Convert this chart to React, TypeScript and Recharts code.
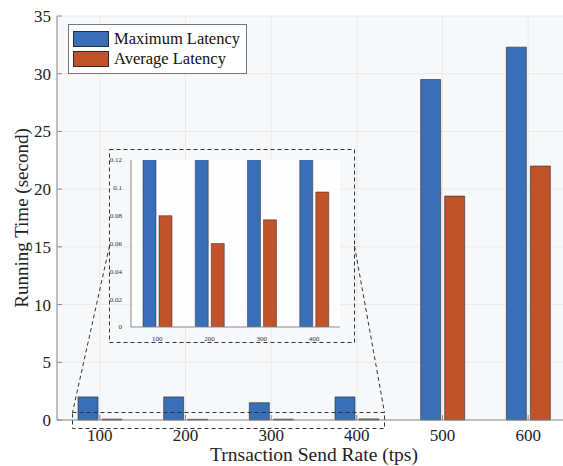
import { Bar, BarChart, CartesianGrid, Legend, XAxis, YAxis } from 'recharts';

const RATES = ['100', '200', '300', '400', '500', '600'];
const MAX_LATENCY = [2.0, 2.0, 1.5, 2.0, 29.5, 32.3];
const AVG_LATENCY = [0.08, 0.06, 0.077, 0.097, 19.4, 22.0];
const Y_TICKS = [0, 5, 10, 15, 20, 25, 30, 35];
const SERIES_NAMES = ['Maximum Latency', 'Average Latency'];

const INSET_COUNT = 4;
const INSET_TICKS = [0, 0.02, 0.04, 0.06, 0.08, 0.1, 0.12];

const BLUE = '#3a6fb7';
const ORANGE = '#c1532a';
const EDGE = '#2b2b2b';
const AXIS = '#8a8a8a';
const FONT = '"Liberation Serif", "Times New Roman", serif';

const rows = RATES.map((rate, i) => ({ rate, max: MAX_LATENCY[i], avg: AVG_LATENCY[i] }));
const insetRows = rows.slice(0, INSET_COUNT);

function MainYTick({ x, y, payload }: any) {
  return (
    <g>
      <line x1={x + 6} x2={x + 11} y1={y} y2={y} stroke={AXIS} />
      <text x={x} y={y} dy="0.35em" textAnchor="end" fontSize={17} fill="#222" style={{ fontFamily: FONT }}>
        {payload.value}
      </text>
    </g>
  );
}

function MainXTick({ x, y, payload }: any) {
  return (
    <g>
      <line x1={x} x2={x} y1={y - 9} y2={y - 14} stroke={AXIS} />
      <text x={x} y={y} dy="0.71em" textAnchor="middle" fontSize={17} fill="#222" style={{ fontFamily: FONT }}>
        {payload.value}
      </text>
    </g>
  );
}

function InsetYTick({ x, y, payload }: any) {
  return (
    <text x={x} y={y} dy="0.35em" textAnchor="end" fontSize={7} fill="#333" style={{ fontFamily: FONT }}>
      {payload.value}
    </text>
  );
}

function InsetXTick({ x, y, payload }: any) {
  return (
    <text x={x} y={y} dy="0.71em" textAnchor="middle" fontSize={7} fill="#333" style={{ fontFamily: FONT }}>
      {payload.value}
    </text>
  );
}

function TopTick({ x, y }: any) {
  return <line x1={x} x2={x} y1={y} y2={y + 5} stroke={AXIS} />;
}

function LegendBox({ payload }: any) {
  const items = [...(payload ?? [])].sort(
    (a: any, b: any) => SERIES_NAMES.indexOf(a.value) - SERIES_NAMES.indexOf(b.value),
  );
  return (
    <div
      style={{
        border: '1px solid #777',
        background: '#fff',
        padding: '4px 6px 4px 4px',
        fontFamily: FONT,
        fontSize: 16.5,
        color: '#111',
      }}
    >
      {items.map((item: any) => (
        <div key={item.value} style={{ display: 'flex', alignItems: 'center', height: 20 }}>
          <span
            style={{
              width: 34,
              height: 14,
              background: item.color,
              border: `1px solid ${EDGE}`,
              marginRight: 5,
            }}
          />
          <span>{item.value}</span>
        </div>
      ))}
    </div>
  );
}

function Inset() {
  return (
    <div style={{ position: 'absolute', left: 109, top: 149 }}>
      <BarChart
        width={245}
        height={193}
        data={insetRows}
        margin={{ top: 11, right: 14, bottom: 0, left: 0 }}
        barSize={13}
        barGap={3}
      >
        <CartesianGrid fill="#ffffff" fillOpacity={0.85} horizontal={false} vertical={false} />
        <XAxis
          dataKey="rate"
          height={15}
          tickLine={false}
          tickMargin={3}
          tick={<InsetXTick />}
          axisLine={{ stroke: AXIS }}
        />
        <XAxis xAxisId="top" orientation="top" dataKey="rate" height={0} tick={false} tickLine={false} axisLine={{ stroke: AXIS }} />
        <YAxis
          width={22}
          domain={[0, 0.12]}
          ticks={INSET_TICKS}
          allowDataOverflow
          tickLine={false}
          tickMargin={3}
          tick={<InsetYTick />}
          axisLine={{ stroke: AXIS }}
        />
        <YAxis yAxisId="r" orientation="right" width={0} tick={false} tickLine={false} axisLine={{ stroke: AXIS }} />
        <Bar dataKey="max" fill={BLUE} stroke={EDGE} strokeWidth={0.5} isAnimationActive={false} />
        <Bar dataKey="avg" fill={ORANGE} stroke={EDGE} strokeWidth={0.5} isAnimationActive={false} />
      </BarChart>
    </div>
  );
}

function ZoomMarks() {
  const dash = { stroke: '#333', strokeWidth: 1, strokeDasharray: '4 3', fill: 'none' };
  return (
    <svg
      width={563}
      height={466}
      style={{ position: 'absolute', left: 0, top: 0, pointerEvents: 'none' }}
    >
      <rect x={109.5} y={149.5} width={245} height={193} {...dash} />
      <rect x={72.5} y={412.5} width={312} height={16} {...dash} />
      <line x1={109.5} y1={246} x2={72.5} y2={412.5} {...dash} />
      <line x1={354.5} y1={246} x2={384.5} y2={412.5} {...dash} />
    </svg>
  );
}

export default function App() {
  return (
    <div
      style={{
        position: 'absolute',
        left: 0,
        top: 0,
        width: 563,
        height: 466,
        overflow: 'hidden',
        background: '#fff',
        fontFamily: FONT,
      }}
    >
      <BarChart
        width={600}
        height={466}
        data={rows}
        margin={{ top: 16, right: 29, bottom: 0, left: 0 }}
        barSize={20}
        barGap={4}
      >
        <CartesianGrid fill="#f7f8fa" stroke="#eaeaea" />
        <XAxis
          dataKey="rate"
          height={46}
          tickSize={0}
          tickMargin={9}
          tick={<MainXTick />}
          axisLine={{ stroke: AXIS }}
          label={{
            value: 'Trnsaction Send Rate (tps)',
            position: 'insideBottom',
            offset: 5,
            fontSize: 19.5,
            fill: '#222',
            style: { fontFamily: FONT },
          }}
        />
        <XAxis
          xAxisId="top"
          orientation="top"
          dataKey="rate"
          height={0}
          tickSize={0}
          tickMargin={0}
          tick={<TopTick />}
          axisLine={{ stroke: AXIS }}
        />
        <YAxis
          width={57}
          domain={[0, 35]}
          ticks={Y_TICKS}
          tickSize={0}
          tickMargin={6}
          tick={<MainYTick />}
          axisLine={{ stroke: AXIS }}
          label={{
            value: 'Running Time (second)',
            angle: -90,
            position: 'insideLeft',
            offset: 21,
            fontSize: 19,
            fill: '#222',
            style: { textAnchor: 'middle', fontFamily: FONT },
          }}
        />
        <Legend
          layout="vertical"
          align="center"
          verticalAlign="middle"
          wrapperStyle={{ left: 68, top: 24, width: 'auto' }}
          content={<LegendBox />}
        />
        <Bar dataKey="max" name={SERIES_NAMES[0]} fill={BLUE} stroke={EDGE} strokeWidth={0.6} isAnimationActive={false} />
        <Bar dataKey="avg" name={SERIES_NAMES[1]} fill={ORANGE} stroke={EDGE} strokeWidth={0.6} isAnimationActive={false} />
      </BarChart>
      <Inset />
      <ZoomMarks />
    </div>
  );
}
